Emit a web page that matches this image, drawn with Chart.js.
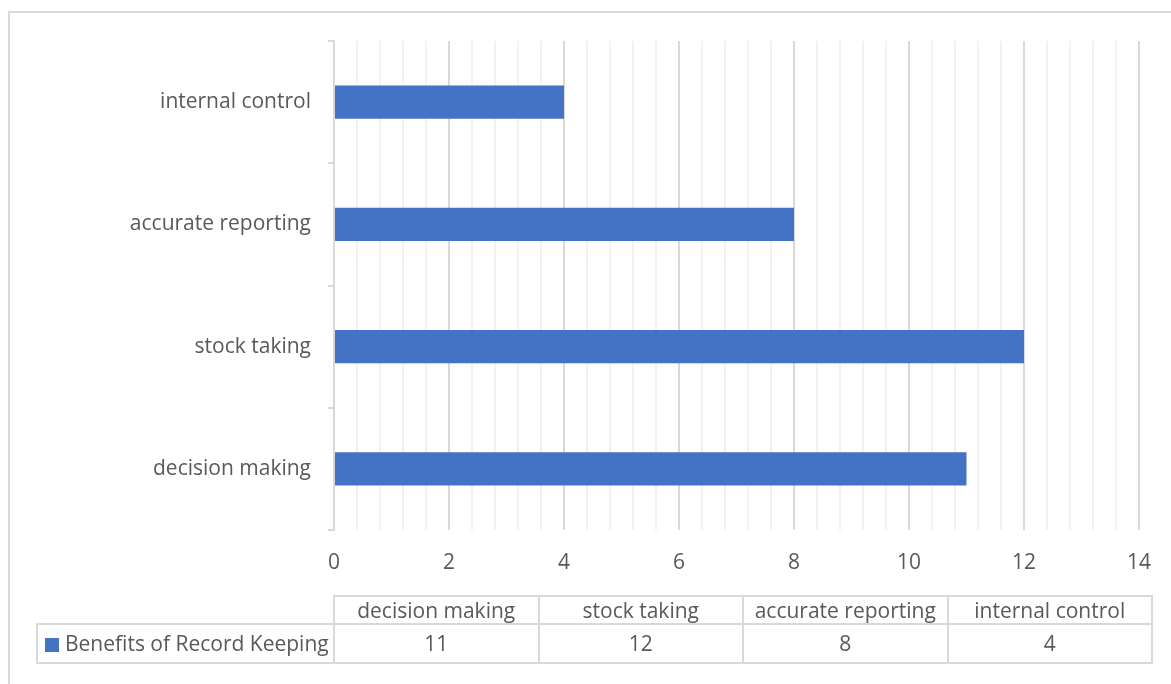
<!DOCTYPE html>
<html>
<head>
<meta charset="utf-8">
<script src="https://cdn.jsdelivr.net/npm/chart.js@4"></script>
<style>
  body { margin: 0; background: #fff; font-family: "Open Sans", sans-serif; }
  #wrap { position: relative; width: 1171px; height: 684px; overflow: hidden; }
  #frame { position: absolute; left: 8px; top: 11px; width: 1200px; height: 700px;
    border-top: 2px solid #d9d9d9; border-left: 2px solid #d9d9d9; box-sizing: border-box; }
  canvas { position: absolute; left: 0; top: 0; }
  .cell { position: absolute; box-sizing: border-box; border: 2px solid #d9d9d9;
    color: #595959; font-size: 21px; text-align: center; white-space: nowrap; }
</style>
</head>
<body>
<div id="wrap">
  <div id="frame"></div>
  <canvas id="chart" width="1171" height="684"></canvas>
  <div id="table"></div>
</div>
<script>
// data
var categories = ["decision making", "stock taking", "accurate reporting", "internal control"];
var seriesName = "Benefits of Record Keeping";
var values = [11, 12, 8, 4];

var textColor = "#595959";

var ctx = document.getElementById("chart").getContext("2d");

var isMajor = function (v) {
  return Math.abs(v / 2 - Math.round(v / 2)) < 1e-6;
};

var chart = new Chart(ctx, {
  type: "bar",
  data: {
    labels: categories,
    datasets: [
      {
        label: seriesName,
        data: values,
        backgroundColor: "#4472c4",
        categoryPercentage: 1,
        barPercentage: 0.27,
      },
    ],
  },
  options: {
    indexAxis: "y",
    responsive: false,
    animation: false,
    layout: { padding: { left: 0, right: 31, top: 41, bottom: 114 } },
    plugins: { legend: { display: false }, tooltip: { enabled: false } },
    scales: {
      x: {
        min: 0,
        max: 14,
        ticks: {
          stepSize: 0.4,
          autoSkip: false,
          maxRotation: 0,
          color: textColor,
          font: { family: "Open Sans", size: 21 },
          padding: 20,
          callback: function (v) {
            return isMajor(v) ? String(Math.round(v)) : "";
          },
        },
        grid: {
          drawTicks: false,
          color: function (c) {
            return isMajor(c.tick.value) ? "#d9d9d9" : "#f2f2f2";
          },
          lineWidth: 2,
        },
        border: { display: false },
        afterFit: function (s) { s.height = 40; },
      },
      y: {
        reverse: true,
        ticks: {
          color: textColor,
          font: { family: "Open Sans", size: 21 },
          padding: 17,
        },
        grid: {
          drawOnChartArea: false,
          offset: true,
          tickLength: 6,
          color: "#d9d9d9",
          lineWidth: 2,
        },
        border: { color: "#d9d9d9", width: 2 },
        afterFit: function (s) { s.width = 334; },
      },
    },
  },
});

// data table under the chart
var table = document.getElementById("table");
var colLeft = 334, colW = 204.5, headTop = 596, rowTop = 624, rowBottom = 663;
var addCell = function (x, y, w, h, html) {
  var d = document.createElement("div");
  d.className = "cell";
  d.style.left = x + "px";
  d.style.top = y + "px";
  d.style.width = w + 2 + "px";
  d.style.height = h + 2 + "px";
  d.style.lineHeight = h - 2 + "px";
  d.innerHTML = html;
  table.appendChild(d);
};
categories.forEach(function (c, i) {
  addCell(colLeft + i * colW - 1, headTop - 1, colW, rowTop - headTop, c);
  addCell(colLeft + i * colW - 1, rowTop - 1, colW, rowBottom - rowTop, String(values[i]));
});
addCell(36, rowTop - 1, colLeft - 37, rowBottom - rowTop,
  '<span style="display:inline-block;width:14px;height:14px;background:#4472c4;margin-right:6px;vertical-align:-1px"></span>' + seriesName);
table.lastChild.style.textAlign = "left";
table.lastChild.style.paddingLeft = "7px";
</script>
</body>
</html>
